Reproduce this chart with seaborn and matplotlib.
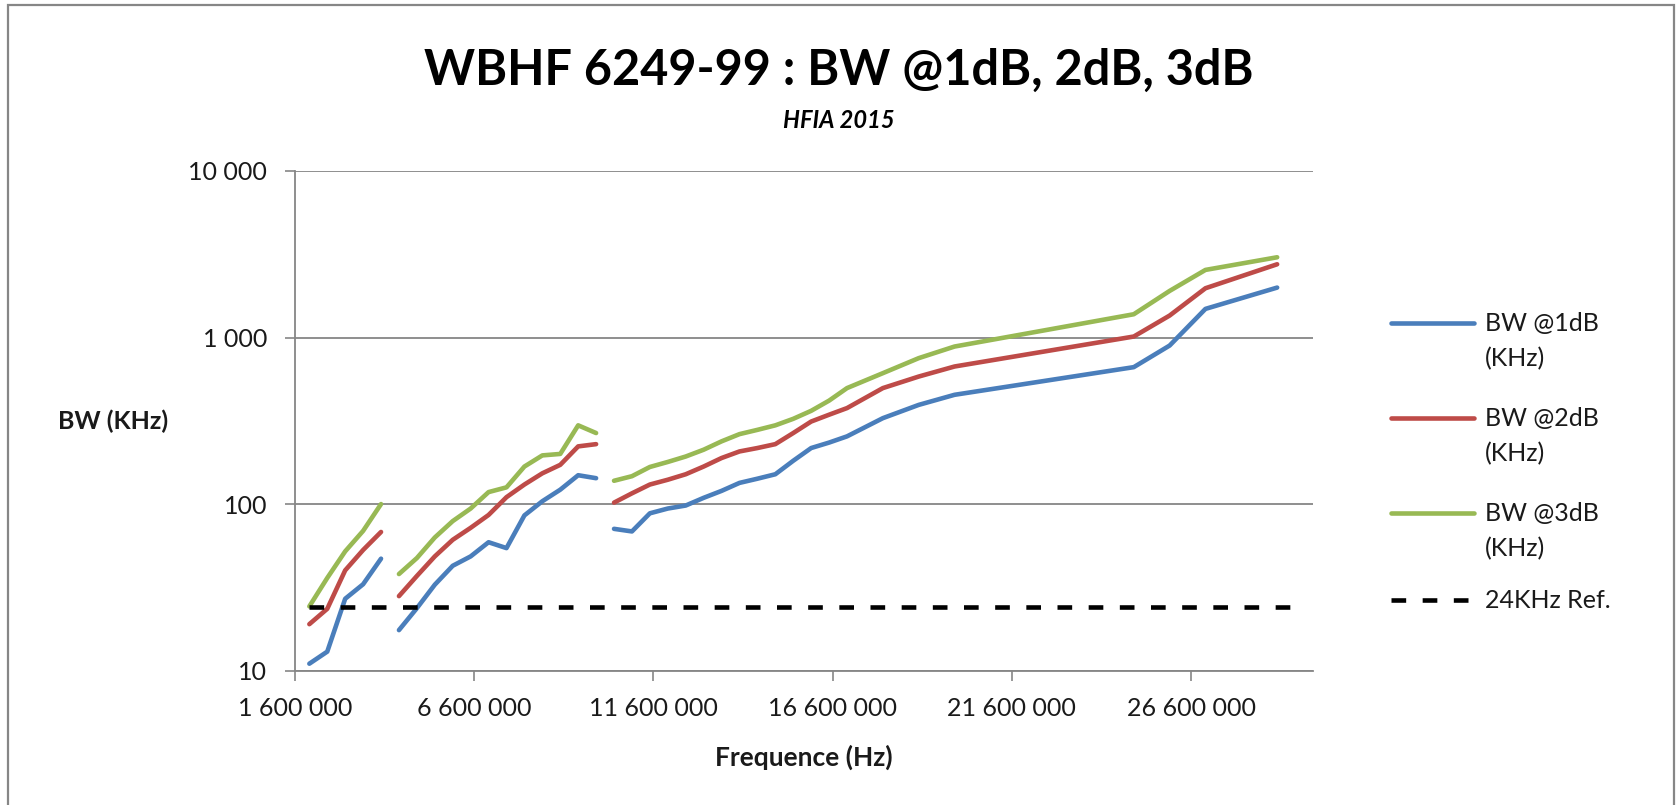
import numpy as np
import pandas as pd
import matplotlib
matplotlib.use("Agg")
import matplotlib.pyplot as plt
import seaborn as sns
from matplotlib.lines import Line2D
from matplotlib.patches import Rectangle
from matplotlib.ticker import FixedLocator, FuncFormatter, NullLocator

# ─────────────────────────────────────────
#  Data (None = blank cell -> line gap)
# ─────────────────────────────────────────
freq_mhz = [2.0, 2.5, 3.0, 3.5, 4.0, None,
            4.5, 5.0, 5.5, 6.0, 6.5, 7.0, 7.5, 8.0, 8.5, 9.0, 9.5, 10.0, None,
            10.5, 11.0, 11.5, 12.0, 12.5, 13.0, 13.5, 14.0, 14.5, 15.0, 15.5, 16.0, 16.5,
            17.0, 18.0, 19.0, 20.0, 25.0, 26.0, 27.0, 29.0]

bw_1db = [11, 13, 27, 33, 47, None,
          17.5, 23.7, 32.8, 42.6, 48.5, 59, 54.4, 85.5, 104, 122, 149, 143, None,
          71, 68.5, 88, 94, 98, 109, 120, 134, 142, 151, 182, 217, 234,
          255, 328, 394, 453, 664, 895, 1486, 1995]

bw_2db = [19, 23.5, 40, 53, 68, None,
          28, 37, 48.5, 61, 72, 86, 110, 131, 153, 172, 222, 229, None,
          102, 116, 131, 140, 151, 168, 189, 207, 217, 229, 267, 313, 344,
          377, 497, 583, 670, 1014, 1355, 1977, 2754]

bw_3db = [24.3, 36, 52, 69, 100, None,
          38, 47.4, 63, 79, 94, 118, 126, 168, 196, 200, 297, 267, None,
          138, 147, 167, 179, 193, 212, 238, 263, 279, 297, 325, 363, 418,
          497, 611, 752, 883, 1380, 1905, 2547, 3034]

ref_freq_mhz = [2.0, 29.6]
ref_bw = [24, 24]

series_keys = ["1dB", "2dB", "3dB"]
series_labels = ["BW @1dB\n(KHz)", "BW @2dB\n(KHz)", "BW @3dB\n(KHz)"]
ref_label = "24KHz Ref."
colors = ["#4A7EBB", "#BE4B48", "#98B954"]

x_ticks = [1.6e6, 6.6e6, 11.6e6, 16.6e6, 21.6e6, 26.6e6]
y_ticks = [10, 100, 1000, 10000]

# ─────────────────────────────────────────
#  Style
# ─────────────────────────────────────────
sns.set_theme(style="white")
plt.rcParams["font.family"] = ["Lato", "DejaVu Sans"]
TXT = "#1a1a1a"
GRID = "#868686"
FS = 18

W, H = 1677, 805
fig = plt.figure(figsize=(W / 100, H / 100), dpi=100)
ax = fig.add_axes([295 / W, 1 - 670.6 / H, (1313 - 295) / W, (670.6 - 171) / H])

df = pd.DataFrame({"freq": pd.to_numeric(pd.Series(freq_mhz), errors="coerce") * 1e6,
                   "1dB": pd.to_numeric(pd.Series(bw_1db), errors="coerce"),
                   "2dB": pd.to_numeric(pd.Series(bw_2db), errors="coerce"),
                   "3dB": pd.to_numeric(pd.Series(bw_3db), errors="coerce")})
df["seg"] = df["freq"].isna().cumsum()
long = df.melt(id_vars=["freq", "seg"], var_name="series", value_name="bw").dropna()

sns.lineplot(data=long, x="freq", y="bw", hue="series", units="seg", estimator=None,
             palette=dict(zip(series_keys, colors)), hue_order=series_keys,
             lw=3.3, legend=False, sort=False, ax=ax,
             solid_capstyle="round", solid_joinstyle="round")

ref = pd.DataFrame({"freq": np.array(ref_freq_mhz) * 1e6, "bw": ref_bw})
ax.plot(ref["freq"], ref["bw"], color="black", lw=3.3, linestyle=(0, (3.2, 3.6)))

ax.set_yscale("log")
ax.set_ylim(10, 10000)
ax.set_xlim(1.6e6, 30e6)

fmt = FuncFormatter(lambda v, p: f"{int(round(v)):,}".replace(",", " "))
ax.xaxis.set_major_locator(FixedLocator(x_ticks))
ax.yaxis.set_major_locator(FixedLocator(y_ticks))
ax.yaxis.set_minor_locator(NullLocator())
ax.xaxis.set_major_formatter(fmt)
ax.yaxis.set_major_formatter(fmt)

ax.yaxis.grid(True, color=GRID, lw=1.3)
ax.xaxis.grid(False)
ax.set_axisbelow(True)
for s in ["top", "right"]:
    ax.spines[s].set_visible(False)
for s in ["left", "bottom"]:
    ax.spines[s].set_color(GRID)
    ax.spines[s].set_linewidth(1.3)

ax.tick_params(axis="both", which="major", direction="out", length=7.5, width=1.2,
               color=GRID, labelsize=FS, labelcolor=TXT, bottom=True, left=True)
ax.tick_params(axis="y", pad=12.5)
ax.tick_params(axis="x", pad=11.5)
ax.set_xlabel("")
ax.set_ylabel("")

# ─────────────────────────────────────────
#  Titles, axis labels, legend, border
# ─────────────────────────────────────────
fig.text(0.5, 1 - 70 / H, "WBHF 6249-99 : BW @1dB, 2dB, 3dB", ha="center", va="center",
         fontsize=35, fontweight="bold", color="black")
fig.text(0.5, 1 - 120 / H, "HFIA 2015", ha="center", va="center",
         fontsize=17, fontweight="bold", style="italic", color="black")
fig.text(168 / W, 1 - 421 / H, "BW (KHz)", ha="right", va="center",
         fontsize=FS, fontweight="bold", color=TXT)
fig.text(804 / W, 1 - 757 / H, "Frequence (Hz)", ha="center", va="center",
         fontsize=19, fontweight="bold", color=TXT)

leg_y = [323, 418, 513, 600]
x0, x1, xt = 1391, 1474, 1485
for y, lab, c in zip(leg_y[:3], series_labels, colors):
    fig.add_artist(Line2D([x0 / W, x1 / W], [1 - y / H] * 2, color=c, lw=3.3,
                          solid_capstyle="round", transform=fig.transFigure))
    first, second = lab.split("\n")
    fig.text(xt / W, 1 - y / H, first, ha="left", va="center", fontsize=FS, color=TXT)
    fig.text(xt / W, 1 - (y + 36) / H, second, ha="left", va="center", fontsize=FS, color=TXT)
fig.add_artist(Line2D([x0 / W, x1 / W], [1 - leg_y[3] / H] * 2, color="black", lw=3.3,
                      linestyle=(0, (3.2, 3.6)), transform=fig.transFigure))
fig.text(xt / W, 1 - leg_y[3] / H, ref_label, ha="left", va="center", fontsize=FS, color=TXT)

fig.add_artist(Rectangle((8 / W, -0.05), (1674 - 8) / W, 1.05 - 5 / H, fill=False,
                         ec=GRID, lw=1.6, transform=fig.transFigure))

fig.savefig("out.png", dpi=100)
